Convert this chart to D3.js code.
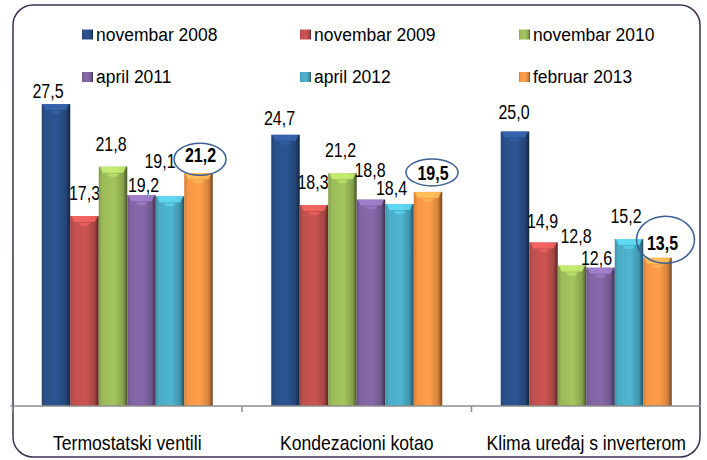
<!DOCTYPE html>
<html>
<head>
<meta charset="utf-8">
<script src="https://cdn.jsdelivr.net/npm/d3@7"></script>
<style>
  body { margin: 0; background: #fff; }
  svg { display: block; font-family: "Liberation Sans", Arial, sans-serif; }
</style>
</head>
<body>
<svg id="chart" width="707" height="460"></svg>
<script>
const categories = ["Termostatski ventili", "Kondezacioni kotao", "Klima uređaj s inverterom"]
const series = ["novembar 2008", "novembar 2009", "novembar 2010", "april 2011", "april 2012", "februar 2013"]
const colors = ["#2a5089", "#c0504d", "#9bbb59", "#8064a2", "#4bacc6", "#f79646"]
const values = [
    [27.5, 17.3, 21.8, 19.2, 19.1, 21.2],
    [24.7, 18.3, 21.2, 18.8, 18.4, 19.5],
    [25.0, 14.9, 12.8, 12.6, 15.2, 13.5]
]
// index of the highlighted (circled, bold) series
const highlight = 5

// label nudges [dx, dy] from the bar top centre, as placed in the original
const labelNudge = [
    [[-8, -6], [0, -16], [-2, -16], [2, -3], [-10, -28], [2, -11]],
    [[-6, -10], [-1, -16], [-2, -16], [-1, -23], [-8, -9], [5, -12]],
    [[-1, -13], [-1, -14], [4, -22], [-4, -3], [-3, -16], [5, -8]]
]
// ellipse around highlighted label [dx, dy, rx, ry] relative to label anchor
const ringShape = [[-0.5, -3, 26, 16], [-1, -7.5, 26, 13.5], [3, -10, 29, 23.5]]

const svg = d3.select("#chart")
const fmt = d3.formatLocale({decimal: ",", thousands: ".", grouping: [3], currency: ["", ""]}).format(".1f")

// frame
svg.append("rect")
    .attr("x", 13).attr("y", 5).attr("width", 687).attr("height", 452)
    .attr("rx", 20).attr("ry", 20)
    .attr("fill", "#fff").attr("stroke", "#3f3151").attr("stroke-width", 1.5)

const baseY = 406
const x0 = d3.scaleBand().domain(categories).range([12.5, 701]).padding(0)
const x1 = d3.scaleBand().domain(series).range([0, x0.bandwidth()]).paddingInner(0).paddingOuter(1.026)
const y = d3.scaleLinear().domain([0, 30]).range([baseY, baseY - 329.4])

// gradients for a bevelled look
const defs = svg.append("defs")
colors.forEach(function(c, i) {
    const base = d3.color(c)
    const g = defs.append("linearGradient").attr("id", "g" + i)
        .attr("x1", "0").attr("x2", "1").attr("y1", "0").attr("y2", "0")
    g.append("stop").attr("offset", "0").attr("stop-color", base.darker(0.5))
    g.append("stop").attr("offset", "0.12").attr("stop-color", base)
    g.append("stop").attr("offset", "0.55").attr("stop-color", base.brighter(0.15))
    g.append("stop").attr("offset", "0.85").attr("stop-color", base.darker(0.4))
    g.append("stop").attr("offset", "1").attr("stop-color", base.darker(2.2))
})

const groups = svg.selectAll("g.cat")
    .data(values)
    .join("g")
    .attr("class", "cat")
    .attr("transform", (d, i) => `translate(${x0(categories[i])},0)`)

groups.each(function(row, gi) {
    const g = d3.select(this)
    const bw = x1.bandwidth()
    row.forEach(function(v, si) {
        const bx = x1(series[si])
        const top = y(v)
        g.append("rect")
            .attr("x", bx).attr("y", top)
            .attr("width", bw).attr("height", baseY - top)
            .attr("fill", `url(#g${si})`)
        // top bevel
        const light = d3.color(colors[si]).brighter(0.8)
        g.append("path")
            .attr("d", `M${bx + 1},${top} L${bx + bw - 1},${top} L${bx + bw - 4},${top + 6} L${bx + 4},${top + 6} Z`)
            .attr("fill", light).attr("opacity", 0.75)
        g.append("path")
            .attr("d", `M${bx + 8},${top + 7} L${bx + bw - 8},${top + 7} L${bx + bw - 11},${top + 10} L${bx + 11},${top + 10} Z`)
            .attr("fill", light).attr("opacity", 0.5)

        const lx = bx + bw / 2 + labelNudge[gi][si][0]
        const ly = top + labelNudge[gi][si][1]
        g.append("text")
            .attr("transform", `translate(${lx},${ly}) scale(0.82,1)`)
            .attr("text-anchor", "middle")
            .attr("font-size", 19.5)
            .attr("font-weight", si === highlight ? "bold" : "normal")
            .attr("fill", "#000")
            .text(fmt(v))
        if (si === highlight) {
            const r = ringShape[gi]
            g.append("ellipse")
                .attr("cx", lx + r[0]).attr("cy", ly + r[1])
                .attr("rx", r[2]).attr("ry", r[3])
                .attr("fill", "none").attr("stroke", "#3b5e93").attr("stroke-width", 1.5)
        }
    })
})

// category axis
const axis = svg.append("g").attr("transform", `translate(0,${baseY})`)
    .call(d3.axisBottom(x0).tickSize(0))
axis.select(".domain").attr("stroke", "#8c8c8c").attr("stroke-width", 1.5)
    .attr("d", `M${x0.range()[0] - 2},0H${x0.range()[1]}`)
axis.selectAll(".tick text")
    .attr("y", 44).attr("dy", null)
    .attr("transform", "scale(0.88,1)")
    .attr("font-size", 20).attr("fill", "#000")
    .attr("font-family", "Liberation Sans, Arial, sans-serif")
axis.selectAll("line.sep")
    .data(categories)
    .join("line")
    .attr("class", "sep")
    .attr("x1", d => x0(d)).attr("x2", d => x0(d))
    .attr("y1", 0).attr("y2", 6)
    .attr("stroke", "#8c8c8c").attr("stroke-width", 1.5)

// legend
const legX = [82, 300, 519]
const legY = [40.5, 83]
const legend = svg.selectAll("g.leg")
    .data(series)
    .join("g")
    .attr("class", "leg")
    .attr("transform", (d, i) => `translate(${legX[i % 3]},${legY[Math.floor(i / 3)]})`)
legend.append("rect")
    .attr("x", 0).attr("y", -11).attr("width", 11).attr("height", 10)
    .attr("fill", (d, i) => `url(#g${i})`)
legend.append("text")
    .attr("transform", "translate(14,0) scale(0.92,1)")
    .attr("font-size", 19)
    .attr("fill", "#000")
    .text(d => d)
</script>
</body>
</html>
